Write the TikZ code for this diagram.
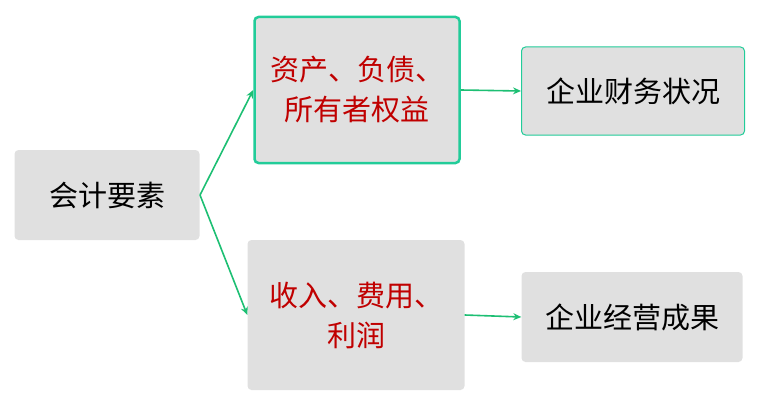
\documentclass[tikz,border=0pt]{standalone}
\usepackage{fontspec}
\setmainfont{Noto Sans CJK SC}
\usetikzlibrary{arrows.meta}
\definecolor{boxgray}{HTML}{E0E0E0}
\definecolor{linegreen}{HTML}{1DBF73}
\definecolor{framegreen}{HTML}{22CC99}
\definecolor{textred}{HTML}{C00000}
\begin{document}
\begin{tikzpicture}[x=1pt,y=-1pt,
  box/.style={fill=boxgray,rounded corners=4pt,inner sep=0pt,font=\fontsize{29}{40}\selectfont},
  link/.style={draw=linegreen,line width=1.6pt,-{Stealth[length=8pt,width=7pt]}}]
\useasboundingbox (0,0) rectangle (770,401);
% 左侧
\node[box,minimum width=185pt,minimum height=90pt] (elem) at (107,195) {会计要素};
% 中间
\node[box,draw=framegreen,line width=2.5pt,minimum width=205pt,minimum height=146pt,
  text=textred,align=center] (stock) at (357,90) {资产、负债、\\所有者权益};
\node[box,minimum width=217pt,minimum height=150pt,text=textred,align=center]
  (flow) at (356,315) {收入、费用、\\利润};
% 右侧
\node[box,draw=framegreen,line width=1pt,minimum width=223pt,minimum height=88pt]
  (state) at (633,91) {企业财务状况};
\node[box,minimum width=221pt,minimum height=90pt] (result) at (632,317) {企业经营成果};
% 连线
\coordinate (fork) at (200,195);
\draw[link] (fork) -- (stock.west);
\draw[link] (fork) -- (flow.west);
\draw[link] (stock.east) -- (state.west);
\draw[link] (flow.east) -- (result.west);
\end{tikzpicture}
\end{document}
